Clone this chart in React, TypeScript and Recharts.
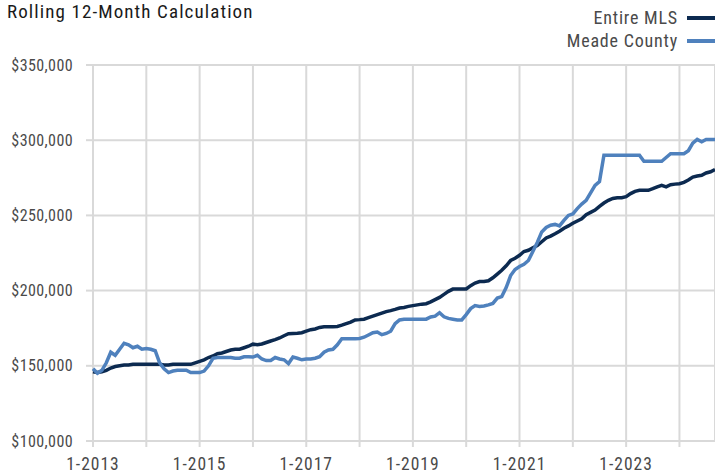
import React from 'react';
import { LineChart, Line, XAxis, YAxis, CartesianGrid } from 'recharts';

const startYear = 2013;
const entireMLS = [
  146, 145.5, 146, 147, 148.5, 149.5, 150, 150.5, 150.5, 151, 151, 151,
  151, 151, 151, 151, 150.5, 150.5, 151, 151, 151, 151, 151, 152,
  153, 154, 155.5, 156.5, 158, 158.5, 159.5, 160.5, 161, 161, 162, 163,
  164.4, 164, 164.5, 165.5, 166.5, 167.4, 168.5, 170, 171.3, 171.5, 171.7, 172,
  173, 174, 174.5, 175.5, 176, 176, 176, 176.2, 177, 178, 179, 180.5,
  180.7, 181, 182, 183, 184, 185, 186, 186.7, 187.5, 188.4, 188.8, 189.5,
  190, 190.5, 191, 191.3, 192.5, 194, 195.5, 197.5, 199.5, 201, 201, 201,
  201.1, 203.3, 205, 206, 206, 206.5, 208.5, 211, 213.5, 216.5, 220, 221.5,
  223.5, 226, 226.8, 228.5, 230, 232.5, 235, 236.2, 237.8, 239.5, 241.5, 243,
  244.8, 246.3, 247.8, 250.5, 252, 253.5, 256, 258.2, 260, 261.3, 261.8, 261.8,
  262.5, 264.5, 266, 266.7, 266.7, 266.7, 267.8, 269, 270, 269, 270.4, 270.8,
  271.1, 272, 273.5, 275.5, 276.2, 276.7, 278.2, 279, 280.5,
];
const meadeCounty = [
  148, 145, 147, 152, 159, 157, 161, 165, 164, 162, 163, 161,
  161.5, 161, 160, 152, 148, 145.5, 146.5, 147, 147, 147, 145.5, 145.5,
  145.5, 146.5, 150, 155, 155.5, 155.5, 155.5, 155.5, 155, 155, 156, 156,
  155.8, 157, 154.5, 153.5, 153.5, 155.5, 154.5, 154, 151.5, 155.8, 155, 154,
  154.5, 154.5, 155, 156, 159, 160.5, 161, 164, 168, 168, 168, 168,
  168.2, 169, 170.5, 172, 172.5, 170.7, 171.5, 173, 178, 180.5, 181, 181,
  181, 181, 181, 181, 182.5, 183, 185.3, 182.6, 181.5, 181, 180.5, 180.5,
  184, 188, 190, 189.5, 189.8, 190.5, 191.5, 195, 196, 202, 210, 214,
  216, 217.5, 220, 226, 232, 239, 242, 243.5, 244, 243, 246.7, 250,
  251, 254.5, 257.5, 260, 265, 270, 272.5, 290, 290, 290, 290, 290,
  290, 290, 290, 290, 286, 286, 286, 286, 286, 288.5, 291, 291,
  291, 291, 293, 298, 300.5, 299, 300.5, 300.5, 300.5,
];
const xTicks = [0, 12, 24, 36, 48, 60, 72, 84, 96, 108, 120, 132];
const yTicks = [100000, 150000, 200000, 250000, 300000, 350000];
const seriesNames = ['Entire MLS', 'Meade County'];
const colors = ['#0c2a50', '#4f81bd'];

const data = entireMLS.map((v, i) => ({
  m: i,
  mls: v * 1000,
  meade: meadeCounty[i] * 1000,
}));

const FONT = '"Liberation Sans Narrow", "Arial Narrow", "Roboto Condensed", sans-serif';

const fmtX = (v: number) => (v % 24 === 0 ? `1-${startYear + v / 12}` : '');
const fmtY = (v: number) => '$' + v.toLocaleString('en-US');

export default function App() {
  return (
    <div style={{ position: 'absolute', left: 0, top: 0, width: 715, height: 476, background: '#fff' }}>
      <LineChart width={715} height={476} data={data} margin={{ top: 65, right: 0, left: 0, bottom: 10 }}>
        <CartesianGrid stroke="#d9d9d9" strokeWidth={2} />
        <XAxis
          dataKey="m"
          type="number"
          domain={[0, 140]}
          ticks={xTicks}
          tickFormatter={fmtX}
          interval={0}
          height={25}
          axisLine={false}
          tickLine={{ stroke: '#d9d9d9', strokeWidth: 2 }}
          tickSize={6}
          tickMargin={11}
          tick={{ fill: '#4a4a4a', fontSize: 17.5, fontFamily: FONT, letterSpacing: 1 }}
        />
        <YAxis
          type="number"
          domain={[100000, 350000]}
          ticks={yTicks}
          tickFormatter={fmtY}
          width={93}
          axisLine={false}
          tickLine={{ stroke: '#d9d9d9', strokeWidth: 2 }}
          tickSize={7}
          tickMargin={13}
          tick={{ fill: '#4a4a4a', fontSize: 16, fontFamily: FONT, letterSpacing: 0.4 }}
        />
        <Line dataKey="mls" name={seriesNames[0]} stroke={colors[0]} strokeWidth={3.5} dot={false} isAnimationActive={false} />
        <Line dataKey="meade" name={seriesNames[1]} stroke={colors[1]} strokeWidth={3.5} dot={false} isAnimationActive={false} />
      </LineChart>
      <div style={{ position: 'absolute', left: 7, top: 0, fontFamily: FONT, fontSize: 19, letterSpacing: 1.1, color: '#1a1a1a', whiteSpace: 'nowrap', lineHeight: '24px' }}>
        Rolling 12-Month Calculation
      </div>
      <div style={{ position: 'absolute', right: 0, top: 6, fontFamily: FONT, fontSize: 18, letterSpacing: 0.8, color: '#4a4a4a', textAlign: 'right' }}>
        {seriesNames.map((n, i) => (
          <div key={n} style={{ display: 'flex', justifyContent: 'flex-end', alignItems: 'center', height: 23 }}>
            <span>{n}</span>
            <span style={{ display: 'inline-block', width: 28, height: 4, background: colors[i], marginLeft: 9 }} />
          </div>
        ))}
      </div>
    </div>
  );
}
